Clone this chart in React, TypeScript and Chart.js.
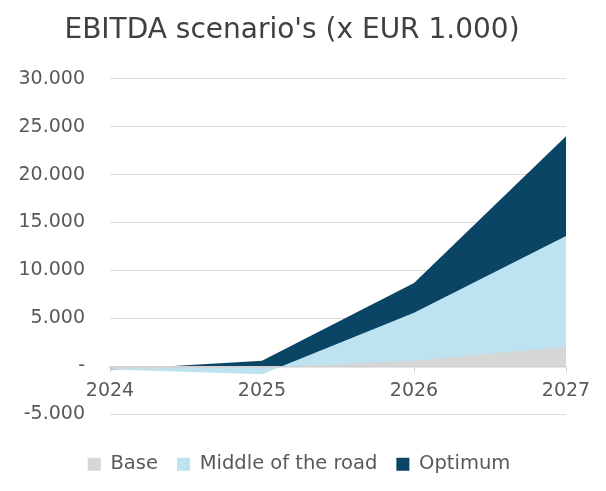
import React, { useEffect, useRef } from "react";
import { Chart, registerables } from "chart.js";

Chart.register(...registerables);

const categories = ["2024", "2025", "2026", "2027"];
const baseValues = [-250, -100, 600, 2050];
const middleValues = [-300, -800, 5600, 13600];
const optimumValues = [-350, 600, 8700, 24000];
const yTicks = [-5000, 0, 5000, 10000, 15000, 20000, 25000, 30000];

const fmt = (v: number) => {
  if (v === 0) return "-";
  const s = Math.abs(v).toString().replace(/\B(?=(\d{3})+(?!\d))/g, ".");
  return (v < 0 ? "-" : "") + s;
};

const shiftLegend = {
  id: "shiftLegend",
  afterLayout(chart: any) {
    if (chart.legend) {
      chart.legend.left += 7;
      chart.legend.right += 7;
    }
  },
};

export default function App() {
  const ref = useRef<HTMLCanvasElement | null>(null);
  useEffect(() => {
    if (!ref.current) return;
    const font = "'DejaVu Sans', sans-serif";
    const chart = new Chart(ref.current, {
      type: "line",
      data: {
        labels: categories,
        datasets: [
          {
            label: "Base",
            data: baseValues,
            backgroundColor: "#D6D6D6",
            borderColor: "#D6D6D6",
            borderWidth: 0,
            pointRadius: 0,
            fill: "origin",
            tension: 0,
          },
          {
            label: "Middle of the road",
            data: middleValues,
            backgroundColor: "#BDE3F1",
            borderColor: "#BDE3F1",
            borderWidth: 0,
            pointRadius: 0,
            fill: "origin",
            tension: 0,
          },
          {
            label: "Optimum",
            data: optimumValues,
            backgroundColor: "#0B4566",
            borderColor: "#0B4566",
            borderWidth: 0,
            pointRadius: 0,
            fill: "origin",
            tension: 0,
          },
        ],
      },
      options: {
        animation: false,
        responsive: true,
        maintainAspectRatio: false,
        layout: { padding: { left: 18, right: 40, top: 0, bottom: 7 } },
        plugins: {
          title: {
            display: true,
            text: "EBITDA scenario's (x EUR 1.000)",
            color: "#404040",
            font: { family: font, size: 28, weight: "normal" },
            padding: { top: 14, bottom: 31 },
          },
          legend: {
            position: "bottom",
            labels: {
              color: "#595959",
              font: { family: font, size: 19.5 },
              boxWidth: 13,
              boxHeight: 13,
              padding: 19,
            },
          },
          tooltip: { enabled: false },
        },
        scales: {
          x: {
            type: "category",
            position: { y: 0 },
            offset: false,
            grid: {
              display: true,
              drawOnChartArea: false,
              drawTicks: true,
              tickLength: 5,
              color: "#D0D0D0",
              z: 1,
            },
            border: { display: true, color: "#D0D0D0", width: 1.5, z: 1 },
            ticks: {
              color: "#595959",
              font: { family: font, size: 19 },
              padding: 8,
              maxRotation: 0,
              z: 1,
            },
          },
          x2: {
            type: "category",
            position: "bottom",
            display: true,
            grid: { display: false, drawTicks: false },
            border: { display: false },
            ticks: { display: false },
            afterFit: (s: any) => {
              s.height = 21;
            },
          },
          y: {
            min: -5000,
            max: 30000,
            afterBuildTicks: (axis: any) => {
              axis.ticks = yTicks.map((v) => ({ value: v }));
            },
            afterFit: (s: any) => {
              s.width = 92;
            },
            grid: { color: "#D9D9D9", drawTicks: false, lineWidth: 1 },
            border: { display: false },
            ticks: {
              color: "#595959",
              font: { family: font, size: 19 },
              padding: 25,
              callback: (v: any) => fmt(Number(v)),
            },
          },
        },
      },
      plugins: [shiftLegend],
    });
    return () => chart.destroy();
  }, []);
  return (
    <div style={{ position: "fixed", left: 0, top: 0, width: 606, height: 491, background: "#fff" }}>
      <canvas ref={ref} />
    </div>
  );
}
